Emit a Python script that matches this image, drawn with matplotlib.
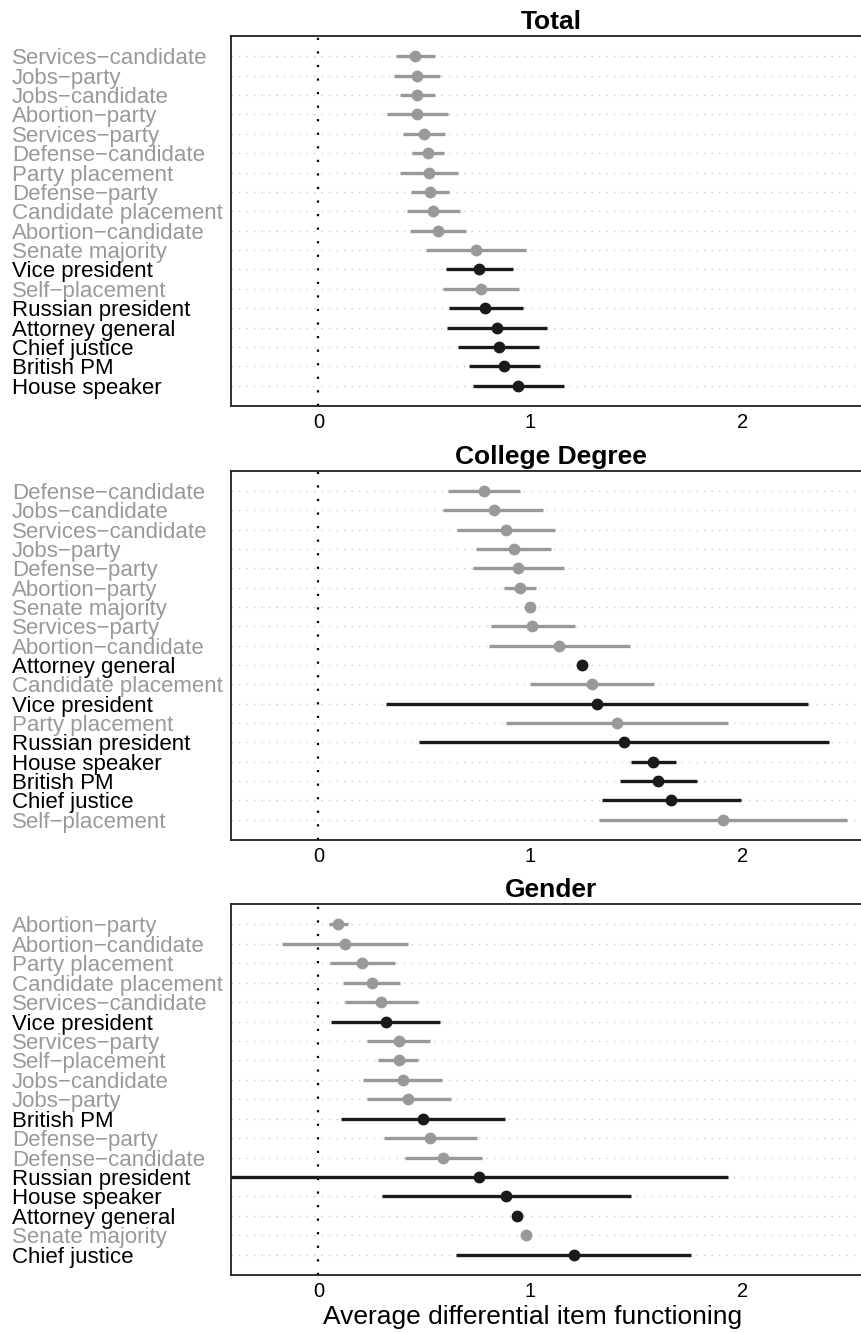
import numpy as np
import matplotlib.pyplot as plt

plt.rcParams['font.family'] = ['Liberation Sans', 'DejaVu Sans']

M = "\u2212"

# knowledge items are drawn in black, the rest in gray
knowledge = ["Vice president", "Russian president", "Attorney general",
             "Chief justice", "British PM", "House speaker"]

# ---- Total (top to bottom) ----
total_labels = ["Services" + M + "candidate", "Jobs" + M + "party", "Jobs" + M + "candidate",
                "Abortion" + M + "party", "Services" + M + "party", "Defense" + M + "candidate",
                "Party placement", "Defense" + M + "party", "Candidate placement",
                "Abortion" + M + "candidate", "Senate majority", "Vice president",
                "Self" + M + "placement", "Russian president", "Attorney general",
                "Chief justice", "British PM", "House speaker"]
total_est = [0.458, 0.466, 0.466, 0.466, 0.497, 0.517, 0.520, 0.528, 0.542,
             0.563, 0.743, 0.760, 0.768, 0.787, 0.842, 0.851, 0.878, 0.944]
total_lo = [0.365, 0.356, 0.383, 0.323, 0.400, 0.442, 0.383, 0.439, 0.417,
            0.430, 0.509, 0.602, 0.586, 0.615, 0.608, 0.661, 0.710, 0.729]
total_hi = [0.549, 0.574, 0.550, 0.611, 0.596, 0.591, 0.661, 0.617, 0.669,
            0.697, 0.978, 0.918, 0.947, 0.966, 1.077, 1.042, 1.046, 1.158]

# ---- College Degree ----
college_labels = ["Defense" + M + "candidate", "Jobs" + M + "candidate", "Services" + M + "candidate",
                  "Jobs" + M + "party", "Defense" + M + "party", "Abortion" + M + "party",
                  "Senate majority", "Services" + M + "party", "Abortion" + M + "candidate",
                  "Attorney general", "Candidate placement", "Vice president",
                  "Party placement", "Russian president", "House speaker",
                  "British PM", "Chief justice", "Self" + M + "placement"]
college_est = [0.781, 0.827, 0.885, 0.921, 0.942, 0.949, 0.996, 1.009, 1.136,
               1.243, 1.292, 1.313, 1.409, 1.442, 1.580, 1.601, 1.663, 1.909]
college_lo = [0.612, 0.589, 0.656, 0.744, 0.729, 0.874, np.nan, 0.812, 0.804,
              np.nan, 0.996, 0.319, 0.885, 0.477, 1.473, 1.422, 1.336, 1.326]
college_hi = [0.949, 1.061, 1.115, 1.097, 1.160, 1.027, np.nan, 1.209, 1.468,
              np.nan, 1.585, 2.311, 1.930, 2.410, 1.689, 1.787, 1.995, 2.493]

# ---- Gender ----
gender_labels = ["Abortion" + M + "party", "Abortion" + M + "candidate", "Party placement",
                 "Candidate placement", "Services" + M + "candidate", "Vice president",
                 "Services" + M + "party", "Self" + M + "placement", "Jobs" + M + "candidate",
                 "Jobs" + M + "party", "British PM", "Defense" + M + "party",
                 "Defense" + M + "candidate", "Russian president", "House speaker",
                 "Attorney general", "Senate majority", "Chief justice"]
gender_est = [0.091, 0.127, 0.208, 0.252, 0.296, 0.319, 0.379, 0.379, 0.397,
              0.425, 0.495, 0.527, 0.586, 0.760, 0.887, 0.939, 0.978, 1.204]
gender_lo = [0.049, -0.171, 0.054, 0.114, 0.127, 0.060, 0.228, 0.283, 0.210,
             0.228, 0.106, 0.309, 0.407, -0.600, 0.298, np.nan, np.nan, 0.649]
gender_hi = [0.140, 0.425, 0.361, 0.387, 0.470, 0.576, 0.527, 0.472, 0.581,
             0.628, 0.882, 0.747, 0.770, 1.933, 1.476, np.nan, np.nan, 1.756]

panels = [("Total", total_labels, total_est, total_lo, total_hi),
          ("College Degree", college_labels, college_est, college_lo, college_hi),
          ("Gender", gender_labels, gender_est, gender_lo, gender_hi)]

GRAY = "#999999"
BLACK = "#1a1a1a"

fig = plt.figure(figsize=(8.62, 13.33), dpi=100)
# axes boxes in figure fractions; right edge runs past the image like the original
boxes = [(0.268, 0.6954, 0.7425, 0.2776),
         (0.268, 0.3698, 0.7425, 0.2770),
         (0.268, 0.0435, 0.7425, 0.2783)]

for (title, labels, est, lo, hi), box in zip(panels, boxes):
    ax = fig.add_axes(box)
    n = len(labels)
    ys = np.arange(n, 0, -1)
    for y, lab, e, l, h in zip(ys, labels, est, lo, hi):
        col = BLACK if lab in knowledge else GRAY
        ax.axhline(y, color="#c4c4c4", lw=0.9, ls=(0, (1, 5)), zorder=1)
        if not np.isnan(l):
            ax.plot([l, h], [y, y], color=col, lw=2.4, solid_capstyle="butt", zorder=3)
        ax.plot(e, y, "o", color=col, ms=7.5, zorder=4)
    ax.axvline(0, color="black", lw=1.6, ls=(0, (1, 5.1)), zorder=2)
    ax.set_xlim(-0.412, 2.607)
    ax.set_ylim(1 - 1.05, n + 1.05)
    ax.set_xticks([0, 1, 2])
    ax.set_xticklabels(["0", "1", "2"], fontsize=14.5)
    ax.set_yticks(ys)
    ax.set_yticklabels(labels, fontsize=16, ha="left")
    for t, lab in zip(ax.get_yticklabels(), labels):
        t.set_color("black" if lab in knowledge else GRAY)
    ax.tick_params(axis="y", length=0, pad=157.7)
    ax.tick_params(axis="x", length=0, pad=5)
    for s in ax.spines.values():
        s.set_linewidth(1.3)
        s.set_color("#222222")
    ax.set_title(title, fontsize=19, fontweight="bold", pad=5)

fig.text(533 / 862, 1 - 1324 / 1333, "Average differential item functioning",
         fontsize=19, ha="center", va="baseline")

fig.savefig("out.png", dpi=100)
